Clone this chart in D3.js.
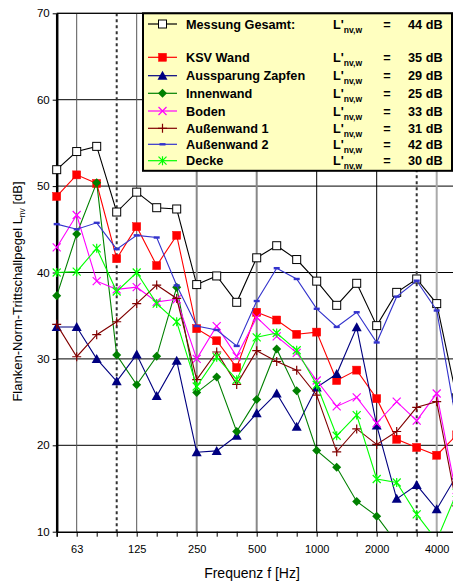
<!DOCTYPE html>
<html><head><meta charset="utf-8">
<script src="https://cdn.jsdelivr.net/npm/d3@7"></script>
<style>body{margin:0;background:#fff}svg{display:block}text{font-family:"Liberation Sans",Arial,sans-serif}</style>
</head><body>
<svg id="c" width="453" height="583"></svg>
<script>
const bands = ["50","63","80","100","125","160","200","250","315","400","500","630","800","1000","1250","1600","2000","2500","3150","4000","5000"];
const tickLabels = ["63","125","250","500","1000","2000","4000"];
const yTicks = [10,20,30,40,50,60,70];
const dashedBands = ["100","3150"];

const messung    = [51.9,54.0,54.6,47.0,49.3,47.5,47.35,38.6,39.6,36.55,41.7,43.1,41.5,39.0,36.2,38.75,33.85,37.7,39.25,36.4,25.5];
const ksvWand    = [48.8,51.3,50.3,41.6,45.3,40.8,44.3,33.5,32.1,29.0,35.4,34.5,32.85,33.1,27.5,28.7,25.4,20.7,19.75,18.85,21.2];
const aussparung = [33.7,33.7,30.0,27.4,30.5,25.7,29.8,19.2,19.35,21.1,23.7,26.0,22.15,26.7,28.25,33.65,22.3,13.8,15.4,12.6,16.5];
const innenwand  = [37.3,44.45,50.4,30.45,27.0,30.3,38.3,26.1,27.9,21.6,25.3,31.15,26.3,19.4,17.45,13.5,11.8,8.7,null,null,null];
const boden      = [42.9,46.65,39.0,38.05,38.3,36.6,36.9,30.0,33.8,30.3,34.8,32.6,30.7,27.5,24.5,25.55,22.55,25.05,22.85,26.0,14.0];
const aussen1    = [34.0,30.25,32.8,34.3,36.4,38.55,37.0,27.6,30.8,27.05,30.95,29.7,28.7,25.8,19.25,21.9,20.1,21.6,24.4,25.05,13.0];
const aussen2    = [45.6,45.0,45.75,42.7,44.3,44.05,38.5,33.8,33.35,31.5,36.7,40.5,39.25,35.8,33.7,35.4,31.9,37.2,39.05,35.6,22.5];
const decke      = [40.0,40.1,42.8,37.8,40.0,36.4,34.3,26.8,30.2,27.6,32.5,33.0,31.0,27.0,21.1,23.5,16.1,15.7,12.0,9.0,14.5];

const seriesNames = ["Messung Gesamt:","KSV Wand","Aussparung Zapfen","Innenwand","Boden","Außenwand 1","Außenwand 2","Decke"];
const ratings = [44,35,29,25,33,31,42,30];

const series = [
  {name:seriesNames[0], values:messung,    color:"#000000", marker:"square"},
  {name:seriesNames[1], values:ksvWand,    color:"#ff0000", marker:"fsquare"},
  {name:seriesNames[2], values:aussparung, color:"#000080", marker:"triangle"},
  {name:seriesNames[3], values:innenwand,  color:"#008000", marker:"diamond"},
  {name:seriesNames[4], values:boden,      color:"#ff00ff", marker:"x"},
  {name:seriesNames[5], values:aussen1,    color:"#800000", marker:"plus"},
  {name:seriesNames[6], values:aussen2,    color:"#3333cc", marker:"dash"},
  {name:seriesNames[7], values:decke,      color:"#00ff00", marker:"star"}
];

const svg = d3.select("#c");
const L = 56.7, R = 456.7, T = 13.3, B = 531.7;
const x = d3.scalePoint().domain(bands).range([L, R]);
const y = d3.scaleLinear().domain([10,70]).range([B, T]);

svg.append("defs").append("clipPath").attr("id","pc")
  .append("rect").attr("x",L-6).attr("y",T).attr("width",R-L+20).attr("height",B-T);

// horizontal grid
svg.append("g").selectAll("line").data(yTicks.filter(d=>d>10)).join("line")
  .attr("x1",L).attr("x2",R).attr("y1",d=>y(d)).attr("y2",d=>y(d))
  .attr("stroke","#000").attr("stroke-width",1);

// vertical grid
const gridStyle = {"63":["#555",1],"125":["#555",1],"250":["#888",2],"500":["#888",2],"1000":["#000",1],"2000":["#000",1],"4000":["#aaa",2]};
svg.append("g").selectAll("line").data(tickLabels).join("line")
  .attr("x1",d=>x(d)).attr("x2",d=>x(d)).attr("y1",T).attr("y2",B)
  .attr("stroke",d=>gridStyle[d][0]).attr("stroke-width",d=>gridStyle[d][1]);

svg.append("g").selectAll("line").data(dashedBands).join("line")
  .attr("x1",d=>x(d)).attr("x2",d=>x(d)).attr("y1",T).attr("y2",B)
  .attr("stroke","#333").attr("stroke-width",2).attr("stroke-dasharray","3,3");

// axes
const xAxis = d3.axisBottom(x).tickSize(5).tickFormat(d=>tickLabels.includes(d)?d:"");
const gx = svg.append("g").attr("transform",`translate(0,${B})`).call(xAxis);
gx.select(".domain").attr("stroke","#000").attr("stroke-width",1.5);
gx.selectAll(".tick line").attr("stroke","#000");
gx.selectAll(".tick text").attr("font-size",11).attr("fill","#000").attr("dy","1.2em")
  .style("font-family",'"Liberation Sans",Arial,sans-serif');

const yAxis = d3.axisLeft(y).tickValues(yTicks).tickSize(4).tickSizeOuter(0);
const gy = svg.append("g").attr("transform",`translate(${L},0)`).call(yAxis);
gy.select(".domain").attr("stroke","#000").attr("stroke-width",2.5);
gy.selectAll(".tick line").attr("stroke","#000");
gy.selectAll(".tick text").attr("font-size",11.5).attr("fill","#000").attr("x",-7)
  .style("font-family",'"Liberation Sans",Arial,sans-serif');

// top line
svg.append("line").attr("x1",L).attr("x2",R).attr("y1",T).attr("y2",T).attr("stroke","#000");

// marker drawer
function drawMarker(g, type, color, cx, cy){
  const s = 4;
  if(type==="square"){
    g.append("rect").attr("x",cx-s).attr("y",cy-s).attr("width",2*s).attr("height",2*s)
      .attr("fill","#fff").attr("stroke",color).attr("stroke-width",1);
  } else if(type==="fsquare"){
    g.append("rect").attr("x",cx-s).attr("y",cy-s).attr("width",2*s).attr("height",2*s)
      .attr("fill",color).attr("stroke",color).attr("stroke-width",0.5);
  } else if(type==="triangle"){
    g.append("path").attr("d",`M${cx},${cy-5}L${cx+5},${cy+4}L${cx-5},${cy+4}Z`).attr("fill",color);
  } else if(type==="diamond"){
    g.append("path").attr("d",`M${cx},${cy-4.5}L${cx+4.5},${cy}L${cx},${cy+4.5}L${cx-4.5},${cy}Z`).attr("fill",color);
  } else if(type==="x"){
    g.append("path").attr("d",`M${cx-4},${cy-4}L${cx+4},${cy+4}M${cx-4},${cy+4}L${cx+4},${cy-4}`)
      .attr("stroke",color).attr("stroke-width",1.2).attr("fill","none");
  } else if(type==="plus"){
    g.append("path").attr("d",`M${cx-4.5},${cy}L${cx+4.5},${cy}M${cx},${cy-4.5}L${cx},${cy+4.5}`)
      .attr("stroke",color).attr("stroke-width",1.2).attr("fill","none");
  } else if(type==="dash"){
    g.append("rect").attr("x",cx-3).attr("y",cy-1.2).attr("width",6).attr("height",2.4).attr("fill",color);
  } else if(type==="star"){
    g.append("path").attr("d",`M${cx-4},${cy-4}L${cx+4},${cy+4}M${cx-4},${cy+4}L${cx+4},${cy-4}M${cx},${cy-4.5}L${cx},${cy+4.5}`)
      .attr("stroke",color).attr("stroke-width",1.2).attr("fill","none");
  }
}

const plot = svg.append("g").attr("clip-path","url(#pc)");
const line = d3.line().defined(d=>d.v!=null).x(d=>x(d.b)).y(d=>y(d.v));
series.forEach(s=>{
  const pts = bands.map((b,i)=>({b, v:s.values[i]}));
  const g = plot.append("g");
  g.append("path").attr("d",line(pts)).attr("fill","none").attr("stroke",s.color).attr("stroke-width",1.1);
  pts.filter(p=>p.v!=null && p.v>=10).forEach(p=>drawMarker(g, s.marker, s.color, x(p.b), y(p.v)));
});

// legend
const lg = svg.append("g");
lg.append("rect").attr("x",143).attr("y",13.3).attr("width",309).attr("height",157.5)
  .attr("fill","#ffffc0").attr("stroke","#000").attr("stroke-width",2);
const rowY = [24,57.3,75.7,93.3,111,128.3,144.3,160.7];
const fs = 12.7;
series.forEach((s,i)=>{
  const ry = rowY[i];
  lg.append("line").attr("x1",148).attr("x2",177).attr("y1",ry).attr("y2",ry).attr("stroke",s.color).attr("stroke-width",1.2);
  drawMarker(lg, s.marker, s.color, 162.5, ry);
  lg.append("text").attr("x",186).attr("y",ry+4.5).attr("font-size",fs).attr("font-weight","bold").text(s.name);
  const t = lg.append("text").attr("x",333).attr("y",ry+4.5).attr("font-size",fs).attr("font-weight","bold");
  t.append("tspan").text("L'");
  t.append("tspan").attr("font-size",8.5).attr("dy",4).text("nv,w");
  lg.append("text").attr("x",387).attr("y",ry+4.5).attr("font-size",fs).attr("font-weight","bold").attr("text-anchor","middle").text("=");
  lg.append("text").attr("x",408).attr("y",ry+4.5).attr("font-size",fs).attr("font-weight","bold").text(ratings[i]+" dB");
});

// axis titles
const yl = svg.append("text").attr("transform","translate(22,291.5) rotate(-90)").attr("text-anchor","middle").attr("font-size",13);
yl.append("tspan").text("Flanken-Norm-Trittschallpegel L");
yl.append("tspan").attr("font-size",8.5).attr("dy",3).text("nv");
yl.append("tspan").attr("dy",-3).text(" [dB]");

svg.append("text").attr("x",252).attr("y",578).attr("text-anchor","middle").attr("font-size",14).text("Frequenz f [Hz]");
</script>
</body></html>
